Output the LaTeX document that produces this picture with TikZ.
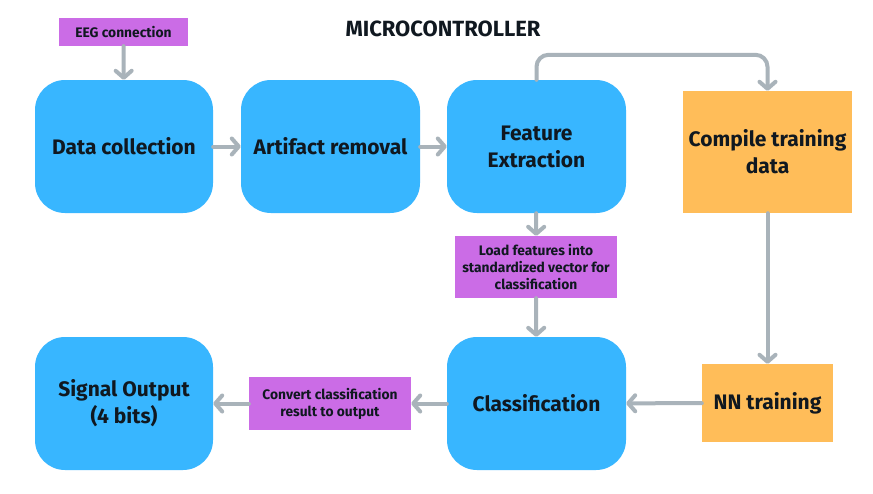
\documentclass[tikz,border=0pt]{standalone}
\usepackage{fontspec}
\setmainfont{Fira Sans}
\usetikzlibrary{arrows.meta}
\definecolor{cblue}{HTML}{38B6FF}
\definecolor{cpurple}{HTML}{CB6CE6}
\definecolor{corange}{HTML}{FFBD59}
\definecolor{cgray}{HTML}{A9B3BA}
\definecolor{ctext}{HTML}{101820}
\begin{document}
\begin{tikzpicture}[x=1pt,y=-1pt,
  bluebox/.style={fill=cblue, rounded corners=30pt, inner sep=0pt, text=ctext, align=center, font=\fontsize{21}{27}\selectfont\bfseries},
  orangebox/.style={fill=corange, inner sep=0pt, text=ctext, align=center, font=\fontsize{21}{27}\selectfont\bfseries},
  purplebox/.style={fill=cpurple, inner sep=0pt, text=ctext, align=center, font=\fontsize{13.8}{17}\selectfont\bfseries},
  arr/.style={draw=cgray, line width=4pt, line cap=round, -{Straight Barb[length=7pt,width=16pt,round]}}]
\useasboundingbox (0,0) rectangle (873,493);
\fill[white] (0,0) rectangle (873,493);
\node[font=\fontsize{22}{24}\selectfont\bfseries, text=ctext] (title) at (443,29) {MICROCONTROLLER};
\node[purplebox, minimum width=129pt, minimum height=28pt] (eeg) at (123.5,32) {EEG connection};
\node[bluebox, minimum width=178pt, minimum height=133pt] (data) at (124,146.5) {Data collection};
\node[bluebox, minimum width=179pt, minimum height=133pt] (art) at (330.5,146.5) {Artifact removal};
\node[bluebox, minimum width=179pt, minimum height=133pt] (feat) at (536.5,146.5) {Feature\\Extraction};
\node[orangebox, minimum width=169pt, minimum height=122pt] (comp) at (767.5,152) {Compile training\\data};
\node[purplebox, minimum width=162pt, minimum height=62pt] (load) at (536,267) {Load features into\\standardized vector for\\classification};
\node[bluebox, minimum width=179pt, minimum height=133pt] (cls) at (536.5,403.5) {Classification};
\node[orangebox, minimum width=131pt, minimum height=78pt] (nn) at (767.5,403) {NN training};
\node[purplebox, minimum width=162pt, minimum height=53pt] (conv) at (330,403.5) {Convert classification\\result to output};
\node[bluebox, minimum width=178pt, minimum height=133pt] (sig) at (124,403.5) {Signal Output\\(4 bits)};
\draw[arr] (eeg) -- (data);
\draw[arr] (data) -- (art);
\draw[arr] (art) -- (feat);
\draw[arr] (feat) -- (load);
\draw[arr] (load) -- (cls);
\draw[arr] (comp) -- (nn);
\draw[arr] (nn) -- (cls);
\draw[arr] (cls) -- (conv);
\draw[arr] (conv) -- (sig);
\draw[arr, rounded corners=12pt] (feat.north) -- ++(0,-25) -| (comp.north);
\end{tikzpicture}
\end{document}
